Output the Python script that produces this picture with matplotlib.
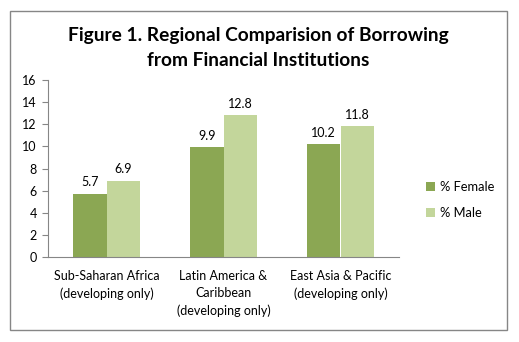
import matplotlib
matplotlib.use('Agg')
import matplotlib.pyplot as plt
import numpy as np
from matplotlib.patches import Rectangle

plt.rcParams['font.family'] = ['Lato', 'DejaVu Sans']

regions = ['Sub-Saharan Africa\n(developing only)',
           'Latin America &\nCaribbean\n(developing only)',
           'East Asia & Pacific\n(developing only)']
female = [5.7, 9.9, 10.2]
male = [6.9, 12.8, 11.8]
yticks = [0, 2, 4, 6, 8, 10, 12, 14, 16]

fig = plt.figure(figsize=(5.19, 3.42), dpi=100)
# outer chart border
fig.patches.append(Rectangle((10 / 519, 12 / 342), 497 / 519, 319 / 342,
                             transform=fig.transFigure, fill=False,
                             edgecolor='#868686', linewidth=1.0))

ax = fig.add_axes([48 / 519, 1 - 257 / 342, 351 / 519, 177 / 342])
x = np.arange(len(regions))
w = 0.285
b1 = ax.bar(x - w / 2, female, w, color='#8BA753', label='% Female')
b2 = ax.bar(x + w / 2, male, w, color='#C3D69B', label='% Male')
for bars, vals in ((b1, female), (b2, male)):
    for r, v in zip(bars, vals):
        ax.text(r.get_x() + r.get_width() / 2, v + 0.5, f'{v:.1f}',
                ha='center', va='bottom', fontsize=9, color='black')

ax.set_xlim(-0.5, 2.5)
ax.set_ylim(0, 16)
ax.set_yticks(yticks)
ax.set_xticks(x)
ax.set_xticklabels(regions, fontsize=9, linespacing=1.55)
ax.tick_params(axis='y', labelsize=9, length=4, color='#868686', pad=4)
ax.tick_params(axis='x', length=0, pad=9)
for s in ('top', 'right'):
    ax.spines[s].set_visible(False)
for s in ('left', 'bottom'):
    ax.spines[s].set_color('#868686')

fig.text(258 / 519, 1 - 48 / 342,
         'Figure 1. Regional Comparision of Borrowing\nfrom Financial Institutions',
         ha='center', va='center', fontsize=13.8, fontweight='bold',
         linespacing=1.5)

fig.legend(handles=[b1, b2], loc='center left',
           bbox_to_anchor=(414 / 519, 1 - 200 / 342), frameon=False,
           fontsize=9.3, handlelength=0.7, handleheight=0.7,
           handletextpad=0.4, labelspacing=1.1)

fig.savefig('out.png', dpi=100)
